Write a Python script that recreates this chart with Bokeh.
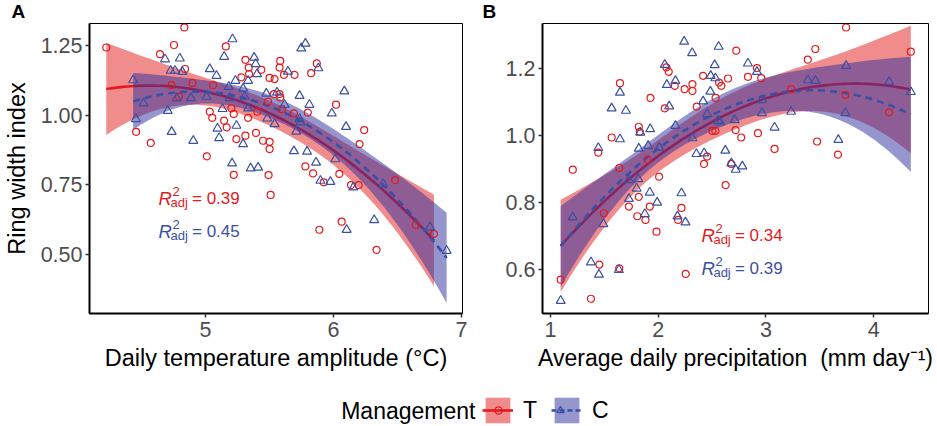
import numpy as np
from bokeh.plotting import figure
from bokeh.layouts import column, row
from bokeh.models import Range1d, FixedTicker, Label, Legend, LegendItem
from bokeh.core.properties import value
from bokeh.embed import file_html
from bokeh.resources import INLINE

# ---------------- data ----------------
# Panel A: daily temperature amplitude (deg C) vs ring width index
a_T_x = [4.835, 4.225, 4.754, 4.645, 5.159, 5.312, 5.338, 5.436, 5.341, 4.840, 5.281, 5.501, 4.899,
         5.060, 4.736, 4.793, 4.458, 4.573, 5.034, 5.053, 5.203, 5.221, 5.146, 5.166, 5.333, 5.242,
         5.312, 5.395, 5.450, 5.501, 5.501, 5.011, 5.405, 5.221, 5.493, 5.509, 5.489, 5.535, 5.578,
         5.584, 5.597, 5.691, 5.800, 6.020, 5.781, 5.841, 5.924, 6.046, 5.584, 5.579, 5.613, 5.696,
         5.540, 5.870, 5.826, 6.240, 6.204, 6.137, 6.197, 5.890, 6.064, 6.337, 6.482, 6.643, 6.785]
a_T_y = [1.314, 1.242, 1.251, 1.218, 1.246, 1.198, 1.170, 1.162, 1.147, 1.165, 1.135, 1.133, 1.115,
         1.107, 1.107, 1.066, 0.940, 0.900, 1.012, 0.990, 1.024, 1.004, 0.980, 0.956, 0.990, 0.914,
         0.926, 0.936, 0.908, 0.904, 0.878, 0.852, 1.012, 0.786, 0.785, 0.714, 1.048, 1.075, 1.075,
         1.063, 1.021, 1.006, 1.009, 1.037, 0.816, 0.791, 0.759, 0.789, 1.194, 1.170, 1.144, 1.144,
         1.129, 1.185, 1.150, 0.946, 0.896, 0.749, 0.749, 0.589, 0.618, 0.517, 0.767, 0.606, 0.574]
a_C_x = [5.211, 4.800, 4.684, 5.146, 5.380, 5.392, 4.728, 4.762, 4.819, 5.034, 5.086, 5.234, 5.333,
         5.403, 4.435, 5.182, 5.294, 5.475, 4.516, 4.775, 4.886, 5.008, 5.190, 5.307, 4.705, 5.133,
         5.333, 5.483, 4.456, 4.736, 5.094, 5.242, 5.107, 4.905, 5.294, 5.208, 5.353, 5.411, 5.691,
         5.794, 5.864, 5.898, 5.976, 6.014, 5.987, 5.812, 5.735, 5.618, 5.540, 5.709, 5.742, 5.748,
         5.781, 5.882, 5.644, 5.559, 6.085, 5.735, 6.098, 6.155, 6.388, 6.318, 6.103, 6.754, 6.884]
a_C_y = [1.272, 1.203, 1.200, 1.209, 1.206, 1.183, 1.159, 1.159, 1.155, 1.165, 1.141, 1.123, 1.123,
         1.147, 1.125, 1.101, 1.095, 1.077, 1.042, 1.060, 1.061, 1.066, 1.061, 1.066, 1.015, 1.022,
         1.024, 0.988, 0.986, 0.940, 0.952, 0.962, 0.918, 0.908, 0.896, 0.827, 0.809, 0.812, 0.871,
         0.869, 0.830, 0.765, 0.761, 0.842, 1.006, 1.037, 1.069, 1.037, 0.968, 0.941, 0.974, 1.239,
         1.256, 1.168, 1.156, 1.081, 1.085, 0.986, 0.958, 0.741, 0.753, 0.624, 0.589, 0.598, 0.514]

# Panel B: average daily precipitation (mm/day) vs ring width index
b_T_x = [1.645, 1.929, 2.061, 2.077, 2.098, 2.154, 2.246, 2.318, 2.318, 2.417, 2.533, 2.565, 2.586,
         2.648, 2.725, 2.358, 2.503, 2.531, 2.719, 2.771, 1.820, 1.830, 1.568, 1.444, 1.207, 1.639,
         1.901, 2.454, 2.426, 2.679, 2.009, 1.496, 1.820, 1.728, 1.806, 1.882, 1.922, 2.216, 2.185,
         1.984, 1.454, 1.639, 2.256, 1.095, 1.376, 2.626, 3.744, 3.459, 3.389, 4.345, 2.917, 2.833,
         2.957, 3.234, 3.737, 4.144, 2.926, 3.080, 3.475, 3.669]
b_T_y = [1.157, 1.113, 1.082, 1.204, 1.191, 1.149, 1.139, 1.154, 1.134, 1.179, 1.113, 1.159, 1.149,
         1.171, 1.254, 1.087, 1.015, 1.015, 1.017, 0.995, 1.027, 1.012, 0.995, 0.950, 0.899, 0.904,
         0.929, 0.938, 0.916, 0.916, 0.878, 0.769, 0.818, 0.789, 0.760, 0.749, 0.789, 0.785, 0.749,
         0.714, 0.616, 0.605, 0.588, 0.571, 0.514, 0.853, 1.323, 1.259, 1.227, 1.251, 1.202, 1.176,
         1.172, 1.139, 1.122, 1.070, 1.008, 0.961, 0.983, 0.944]
b_C_x = [2.241, 2.315, 2.561, 2.061, 2.524, 2.487, 2.531, 2.160, 2.080, 2.484, 1.645, 2.417, 1.568,
         1.700, 2.102, 2.454, 2.556, 2.577, 2.709, 2.160, 1.926, 1.833, 1.645, 2.318, 1.444, 1.820,
         1.907, 2.009, 2.355, 2.426, 2.623, 2.679, 2.719, 2.781, 1.207, 1.491, 1.728, 1.815, 1.799,
         1.728, 1.922, 1.990, 1.876, 2.216, 2.179, 2.253, 1.376, 1.450, 1.635, 1.095, 2.833, 2.917,
         3.744, 3.389, 3.459, 4.144, 4.345, 2.963, 2.963, 3.234, 3.737, 3.080, 3.672]
b_C_y = [1.281, 1.247, 1.266, 1.212, 1.211, 1.179, 1.172, 1.164, 1.152, 1.132, 1.129, 1.103, 1.082,
         1.075, 1.088, 1.065, 1.045, 1.040, 1.047, 1.030, 1.020, 1.010, 0.990, 0.993, 0.964, 0.962,
         0.970, 0.965, 0.946, 0.948, 0.956, 0.918, 0.899, 0.909, 0.757, 0.737, 0.868, 0.871, 0.843,
         0.812, 0.831, 0.801, 0.767, 0.829, 0.760, 0.742, 0.623, 0.586, 0.600, 0.508, 1.216, 1.191,
         1.209, 1.166, 1.164, 1.161, 1.131, 1.107, 1.068, 1.072, 1.068, 1.025, 0.988]

groups = ["T", "C"]
panel_letters = ["A", "B"]
r2_A = ["0.39", "0.45"]
r2_B = ["0.34", "0.39"]

a_xticks = [5, 6, 7]
a_yticks = [0.50, 0.75, 1.00, 1.25]
a_yticklabels = ["0.50", "0.75", "1.00", "1.25"]
b_xticks = [1, 2, 3, 4]
b_yticks = [0.6, 0.8, 1.0, 1.2]
b_yticklabels = ["0.6", "0.8", "1.0", "1.2"]

# ---------------- styling ----------------
FONT = "Liberation Sans"
RED = "#E41A1C"
BLUE = "#3A50A2"
BAND_RED = "#E41A1C"
BAND_BLUE = "#2D2DA0"
DASH = "7 5"
TICK_FS = "21.5px"
TITLE_FS = "23.5px"


def t975(df):
    z = 1.959963985
    return (z + (z**3 + z) / (4 * df) + (5 * z**5 + 16 * z**3 + 3 * z) / (96 * df**2)
            + (3 * z**7 + 19 * z**5 + 17 * z**3 - 15 * z) / (384 * df**3))


def quad_fit(x, y, n=80):
    """lm(y ~ poly(x, 2)) with 95% confidence band, like geom_smooth."""
    x = np.asarray(x, float)
    y = np.asarray(y, float)
    X = np.column_stack([np.ones_like(x), x, x**2])
    beta, *_ = np.linalg.lstsq(X, y, rcond=None)
    resid = y - X @ beta
    df = len(x) - 3
    s2 = resid @ resid / df
    XtXi = np.linalg.inv(X.T @ X)
    xg = np.linspace(x.min(), x.max(), n)
    Xg = np.column_stack([np.ones_like(xg), xg, xg**2])
    fit = Xg @ beta
    se = np.sqrt(s2 * np.einsum("ij,jk,ik->i", Xg, XtXi, Xg))
    t = t975(df)
    return xg, fit, fit - t * se, fit + t * se


H_MAIN = 358


def make_panel(width, bl, br, xr, yr, xticks, yticks, ylabels, xlabel, ylabel, xlabel_fs=TITLE_FS):
    p = figure(width=width, height=H_MAIN, x_range=Range1d(*xr), y_range=Range1d(*yr),
               output_backend="svg", toolbar_location=None,
               min_border_left=bl, min_border_right=br, min_border_top=1, min_border_bottom=67)
    p.xgrid.visible = False
    p.ygrid.visible = False
    p.outline_line_color = "black"
    p.outline_line_width = 1
    p.background_fill_color = "white"
    p.border_fill_color = "white"
    p.xaxis.ticker = FixedTicker(ticks=xticks)
    p.yaxis.ticker = FixedTicker(ticks=yticks)
    p.yaxis.major_label_overrides = {t: l for t, l in zip(yticks, ylabels)}
    for ax in (p.xaxis[0], p.yaxis[0]):
        ax.axis_line_width = 2
        ax.axis_line_color = "black"
        ax.major_tick_line_color = "#333333"
        ax.major_tick_line_width = 1.5
        ax.major_tick_out = 4
        ax.major_tick_in = 0
        ax.minor_tick_line_color = None
        ax.major_label_text_font = FONT
        ax.major_label_text_font_size = TICK_FS
        ax.major_label_text_color = "#4D4D4D"
        ax.axis_label_text_font = FONT
        ax.axis_label_text_font_size = TITLE_FS
        ax.axis_label_text_font_style = "normal"
        ax.axis_label_text_color = "black"
    p.xaxis.axis_label_text_font_size = xlabel_fs
    p.xaxis.major_label_standoff = 4
    p.xaxis.axis_label_standoff = 5
    p.yaxis.major_label_standoff = 3
    p.yaxis.axis_label_standoff = 8
    p.xaxis.axis_label = xlabel
    if ylabel:
        p.yaxis.axis_label = ylabel
    return p


def draw_series(p, xT, yT, xC, yC):
    gx, gf, glo, ghi = quad_fit(xT, yT)
    p.varea(x=gx, y1=glo, y2=ghi, fill_color=BAND_RED, fill_alpha=0.5)
    p.line(x=gx, y=gf, line_color=RED, line_width=2.6)
    cx, cf, clo, chi = quad_fit(xC, yC)
    p.varea(x=cx, y1=clo, y2=chi, fill_color=BAND_BLUE, fill_alpha=0.5)
    p.line(x=cx, y=cf, line_color=BLUE, line_width=2.6, line_dash=DASH)
    p.scatter(x=xT, y=yT, marker="circle", size=7, fill_color=None, line_color=RED, line_width=1.2)
    p.scatter(x=xC, y=yC, marker="triangle", size=9, fill_color=None, line_color=BLUE, line_width=1.2)


def r2_label(p, x, y, val, color):
    dy = -7
    common = dict(text_font=value(FONT), text_color=color, text_baseline="alphabetic", text_align="left")
    p.text(x=[x], y=[y], text=["R"], text_font_size="18.5px", text_font_style="italic",
           y_offset=dy, **common)
    p.text(x=[x], y=[y], text=["2"], text_font_size="13px", x_offset=14, y_offset=dy - 7, **common)
    p.text(x=[x], y=[y], text=["adj"], text_font_size="13px", x_offset=12, y_offset=dy + 4, **common)
    p.text(x=[x], y=[y], text=["= " + val], text_font_size="17px", x_offset=33.5, y_offset=dy, **common)


def strip(height):
    s = figure(width=937, height=height, x_range=Range1d(0, 1), y_range=Range1d(0, 1),
               output_backend="svg", toolbar_location=None, x_axis_location=None,
               y_axis_location=None, min_border=0)
    s.outline_line_color = None
    s.xgrid.visible = False
    s.ygrid.visible = False
    return s


# ---------------- header strip with panel letters ----------------
pH = strip(22)
for letter, lx in zip(panel_letters, [11, 482]):
    pH.add_layout(Label(x=lx, y=10.8, x_units="screen", y_units="screen", text=letter,
                        text_font=FONT, text_font_size="19px", text_font_style="bold",
                        text_color="black", text_baseline="middle"))

# ---------------- panels ----------------
pA = make_panel(502, 88, 40, (4.094, 7.008), (0.289, 1.328), a_xticks, a_yticks, a_yticklabels,
                "Daily temperature amplitude (°C)", "Ring width index")
draw_series(pA, a_T_x, a_T_y, a_C_x, a_C_y)
r2_label(pA, 4.633, 0.675, r2_A[0], RED)
r2_label(pA, 4.633, 0.556, r2_A[1], BLUE)

pB = make_panel(435, 39, 9, (0.926, 4.509), (0.470, 1.335), b_xticks, b_yticks, b_yticklabels,
                "Average daily precipitation\u00a0 (mm day\u207b\u00b9)", None, xlabel_fs="23px")
draw_series(pB, b_T_x, b_T_y, b_C_x, b_C_y)
r2_label(pB, 2.401, 0.682, r2_B[0], RED)
r2_label(pB, 2.401, 0.583, r2_B[1], BLUE)

# ---------------- legend strip ----------------
pL = strip(46)
nan = [np.nan]
lT_band = pL.varea(x=nan, y1=nan, y2=nan, fill_color=BAND_RED, fill_alpha=0.5)
lT_line = pL.line(x=nan, y=nan, line_color=RED, line_width=2.6)
lT_pt = pL.scatter(x=nan, y=nan, marker="circle", size=7, fill_color=None, line_color=RED, line_width=1.3)
lC_band = pL.varea(x=nan, y1=nan, y2=nan, fill_color=BAND_BLUE, fill_alpha=0.5)
lC_line = pL.line(x=nan, y=nan, line_color=BLUE, line_width=2.6, line_dash="5 3")
lC_pt = pL.scatter(x=nan, y=nan, marker="triangle", size=9, fill_color=None, line_color=BLUE, line_width=1.3)
legend = Legend(items=[LegendItem(label=groups[0], renderers=[lT_band, lT_line]),
                       LegendItem(label=groups[1], renderers=[lC_band, lC_line])],
                orientation="horizontal", location=(482, 0), padding=0, margin=0,
                glyph_width=31, glyph_height=32, label_height=32, label_standoff=10, spacing=8,
                label_text_font=FONT, label_text_font_size="23px", label_text_color="black",
                border_line_color=None, background_fill_alpha=0)
pL.add_layout(legend, "center")
# smaller key markers, centred on the two keys
for rend, cx in ((lT_pt, 497.5), (lC_pt, 560.0)):
    pL.add_layout(Legend(items=[LegendItem(label=" ", renderers=[rend])], location=(cx - 9, 7),
                         padding=0, margin=0, glyph_width=18, glyph_height=18, label_height=18,
                         label_standoff=0, label_text_font_size="1px", label_text_alpha=0,
                         border_line_color=None, background_fill_alpha=0), "center")
pL.add_layout(Label(x=340.7, y=16, x_units="screen", y_units="screen", text="Management",
                    text_font=FONT, text_font_size="23px", text_color="black", text_baseline="middle"))

layout = column(pH, row(pA, pB), pL)
open("out.html", "w").write(file_html(layout, INLINE))
